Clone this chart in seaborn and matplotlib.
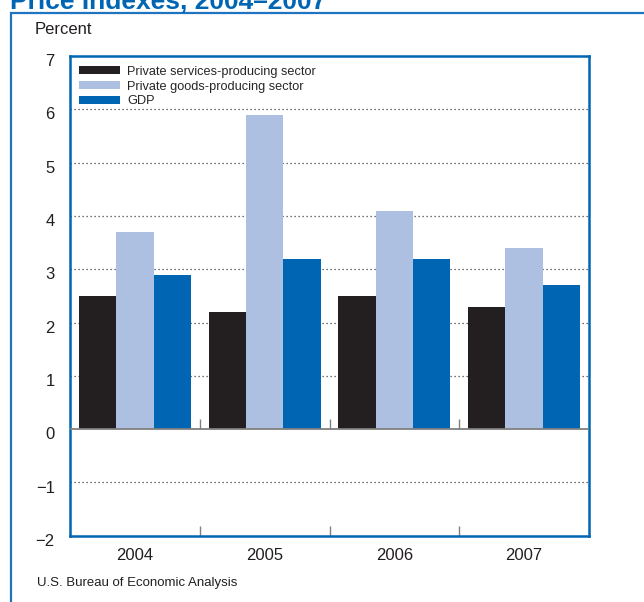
import numpy as np
import pandas as pd
import matplotlib
matplotlib.use("Agg")
import matplotlib.pyplot as plt
import matplotlib.patches as mpatches
import matplotlib.transforms as mtransforms
import seaborn as sns

# values (percent change)
years = ["2004", "2005", "2006", "2007"]
series = ["Private services-producing sector",
          "Private goods-producing sector",
          "GDP"]
services = [2.5, 2.2, 2.5, 2.3]
goods = [3.7, 5.9, 4.1, 3.4]
gdp = [2.9, 3.2, 3.2, 2.7]
yticks = [-2, -1, 0, 1, 2, 3, 4, 5, 6, 7]
yticklabels = ["\u22122", "\u22121", "0", "1", "2", "3", "4", "5", "6", "7"]

colors = ["#231f20", "#adc0e1", "#0066b3"]
blue = "#0066b3"

df = pd.DataFrame({
    "year": years * 3,
    "series": [series[0]] * 4 + [series[1]] * 4 + [series[2]] * 4,
    "value": services + goods + gdp,
})

sns.set_theme(style="white")
plt.rcParams["font.family"] = ["Liberation Sans", "DejaVu Sans"]

fig = plt.figure(figsize=(6.44, 6.02), dpi=100)
ax = fig.add_axes([70 / 644, 1 - 535.7 / 602, 519 / 644, (535.7 - 56) / 602])

sns.barplot(data=df, x="year", y="value", hue="series", hue_order=series,
            order=years, palette=colors, saturation=1, width=0.865, gap=0,
            linewidth=0, edgecolor="none", ax=ax, zorder=2)

ax.set_ylim(-2, 7)
ax.set_xlim(-0.5, len(years) - 0.5)
ax.set_yticks(yticks)
ax.set_yticklabels(yticklabels)
ax.set_xlabel("")
ax.set_ylabel("")

# dotted gridlines, solid gray zero line
for y in yticks:
    if y in (-2, 0, 7):
        continue
    ax.axhline(y, color="#444444", lw=0.9, ls=(0, (1, 2.2)), zorder=1)
ax.axhline(0, color="#808080", lw=1.3, zorder=3)

# separator ticks between years
seps = np.arange(len(years) - 1) + 0.5
ax.set_xticks(seps, minor=True)
ax.tick_params(axis="x", which="minor", direction="in", length=7.2,
               width=1, color="#808080", bottom=True)
ax.vlines(seps, 0, 10 / 53.3, color="#808080", lw=1, zorder=3)

ax.tick_params(axis="both", which="major", length=0, labelsize=12,
               colors="#231f20")
ax.tick_params(axis="y", pad=11)
ax.tick_params(axis="x", pad=9)

# y labels sit a little below their gridlines in the original
shift = mtransforms.ScaledTranslation(0, -3 / 72, fig.dpi_scale_trans)
for lab in ax.get_yticklabels():
    lab.set_transform(lab.get_transform() + shift)

for s in ax.spines.values():
    s.set_visible(True)
    s.set_color(blue)
    s.set_linewidth(1.8)

ax.legend(loc="upper left", bbox_to_anchor=(0.012, 0.985), frameon=False,
          fontsize=9.2, handlelength=3.2, handleheight=0.62,
          handletextpad=0.6, labelspacing=0.22, borderpad=0.2,
          borderaxespad=0)

fig.text(35 / 644, 1 - 30 / 602, "Percent", fontsize=12, va="center",
         color="#231f20")
fig.text(37 / 644, 1 - 583 / 602, "U.S. Bureau of Economic Analysis",
         fontsize=9.5, va="center", color="#231f20",
         family=["Liberation Sans Narrow", "Liberation Sans"])
fig.text(10 / 644, 1 - 9 / 602, "Price Indexes, 2004\u20132007",
         fontsize=19, fontweight="bold", color=blue, va="baseline")

# outer frame of the figure panel
frame = mpatches.Rectangle((11 / 644, -0.05), 1.1, 0.05 + 1 - 13 / 602,
                           transform=fig.transFigure, fill=False,
                           edgecolor="#1f74c2", lw=1.6, clip_on=False)
fig.patches.append(frame)

fig.savefig("out.png", dpi=100)
